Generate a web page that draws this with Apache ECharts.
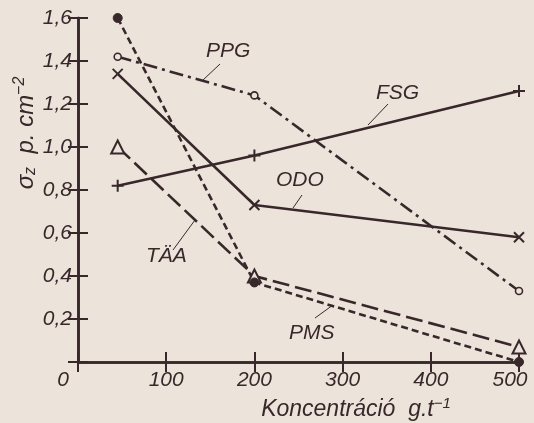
<!DOCTYPE html>
<html><head><meta charset="utf-8">
<script src="https://cdn.jsdelivr.net/npm/echarts@6/dist/echarts.min.js"></script>
<style>html,body{margin:0;padding:0;background:#ece4da;}#c{width:534px;height:423px;}</style>
</head><body><div id="c"></div>
<script>
const xValues = [45, 200, 500];
const xTicks = [0, 100, 200, 300, 400, 500];
const yTicks = [0.2, 0.4, 0.6, 0.8, 1.0, 1.2, 1.4, 1.6];
const PMS = [1.6, 0.37, 0.0];
const TAA = [1.0, 0.40, 0.07];
const PPG = [1.42, 1.24, 0.33];
const FSG = [0.82, 0.96, 1.26];
const ODO = [1.34, 0.73, 0.58];

const ink = '#38282b';
const bg = '#ece4da';
const font = 'Liberation Sans';
const pair = arr => xValues.map((x, i) => [x, arr[i]]);

function series(name, data, dash, symbol, size, itemStyle) {
  return {
    name, type: 'line', data: pair(data), symbol, symbolSize: size,
    lineStyle: {color: ink, width: 2.6, type: dash},
    itemStyle: itemStyle, z: 3, animation: false
  };
}
const plus = 'path://M0,5L10,5M5,0L5,10';
const cross = 'path://M0,0L10,10M10,0L0,10';

const chart = echarts.init(document.getElementById('c'), null, {renderer: 'canvas'});
const labelFont = {color: ink, fontFamily: font, fontStyle: 'italic', fontSize: 21};
const tickStyle = {color: ink, width: 2};
chart.setOption({
  backgroundColor: bg,
  animation: false,
  grid: {left: 78, right: 15, top: 18, bottom: 61},
  xAxis: [{
    type: 'value', min: 0, max: 500, interval: 100,
    axisLine: {lineStyle: {color: ink, width: 2.6}},
    axisTick: {inside: true, length: 10, lineStyle: tickStyle},
    splitLine: {show: false},
    axisLabel: Object.assign({}, labelFont, {
      margin: 8,
      formatter: v => v === 0 ? '{a|0}' : (v === 500 ? '{b|500}' : String(v)),
      rich: {
        a: Object.assign({}, labelFont, {padding: [0, 30, 0, 0]}),
        b: Object.assign({}, labelFont, {padding: [0, 18, 0, 0]})
      }
    })
  }, {
    type: 'value', min: 0, max: 500, interval: 100, position: 'top',
    axisLine: {show: true, lineStyle: {color: ink, width: 2.6}},
    axisTick: {inside: true, length: 10, lineStyle: tickStyle},
    axisLabel: {show: false}, splitLine: {show: false}
  }],
  yAxis: [{
    type: 'value', min: 0, max: 1.6, interval: 0.2,
    axisLine: {show: true, lineStyle: {color: ink, width: 2.6}},
    axisTick: {show: true, inside: true, length: 10, lineStyle: tickStyle},
    splitLine: {show: false},
    axisLabel: Object.assign({}, labelFont, {
      margin: 6,
      formatter: v => v === 0 ? '' : v.toFixed(1).replace('.', ',')
    })
  }, {
    type: 'value', min: 0, max: 1.6, interval: 0.2, position: 'right',
    axisLine: {show: true, lineStyle: {color: ink, width: 2.6}},
    axisTick: {show: true, inside: true, length: 10, lineStyle: tickStyle},
    axisLabel: {show: false}, splitLine: {show: false}
  }],
  series: [
    series('PPG', PPG, [14, 5, 3, 5], 'circle', 7, {color: bg, borderColor: ink, borderWidth: 1.6}),
    series('FSG', FSG, 'solid', plus, 12, {color: 'transparent', borderColor: ink, borderWidth: 2}),
    series('ODO', ODO, 'solid', cross, 10, {color: 'transparent', borderColor: ink, borderWidth: 2}),
    series('TÄA', TAA, [17, 6], 'triangle', 13, {color: bg, borderColor: ink, borderWidth: 2}),
    series('PMS', PMS, [7, 4], 'circle', 9, {color: ink, borderColor: ink, borderWidth: 1})
  ],
  graphic: [
    {type: 'text', left: 206, top: 41, style: {text: 'PPG', fill: ink, font: 'italic 21px "Liberation Sans"'}},
    {type: 'line', shape: {x1: 203, y1: 80, x2: 220, y2: 64}, style: {stroke: ink, lineWidth: 1}},
    {type: 'text', left: 376, top: 83, style: {text: 'FSG', fill: ink, font: 'italic 21px "Liberation Sans"'}},
    {type: 'line', shape: {x1: 368, y1: 125, x2: 388, y2: 104}, style: {stroke: ink, lineWidth: 1}},
    {type: 'text', left: 276, top: 170, style: {text: 'ODO', fill: ink, font: 'italic 21px "Liberation Sans"'}},
    {type: 'line', shape: {x1: 293, y1: 208, x2: 302, y2: 195}, style: {stroke: ink, lineWidth: 1}},
    {type: 'text', left: 146, top: 246, style: {text: 'TÄA', fill: ink, font: 'italic 21px "Liberation Sans"'}},
    {type: 'line', shape: {x1: 173, y1: 250, x2: 195, y2: 220}, style: {stroke: ink, lineWidth: 1}},
    {type: 'text', left: 289, top: 323, style: {text: 'PMS', fill: ink, font: 'italic 21px "Liberation Sans"'}},
    {type: 'line', shape: {x1: 315, y1: 318, x2: 333, y2: 305}, style: {stroke: ink, lineWidth: 1}},
    {type: 'text', x: 356, y: 410, style: {text: 'Koncentráció  g.t{s|−1}', fill: ink, align: 'center', verticalAlign: 'middle',
      font: 'italic 23px "Liberation Sans"',
      rich: {s: {fontSize: 15, fontStyle: 'italic', fontFamily: font, padding: [0, 0, 12, 0], fill: ink}}}},
    {type: 'text', x: 26, y: 133, rotation: Math.PI / 2,
      style: {text: 'σ{z|z}  p. cm{s|−2}', fill: ink, align: 'center', verticalAlign: 'middle',
      font: 'italic 24px "Liberation Sans"',
      rich: {z: {fontSize: 16, fontStyle: 'italic', fontFamily: font, padding: [9, 0, 0, 0], fill: ink},
             s: {fontSize: 16, fontStyle: 'italic', fontFamily: font, padding: [0, 0, 12, 0], fill: ink}}}}
  ]
});
</script></body></html>
